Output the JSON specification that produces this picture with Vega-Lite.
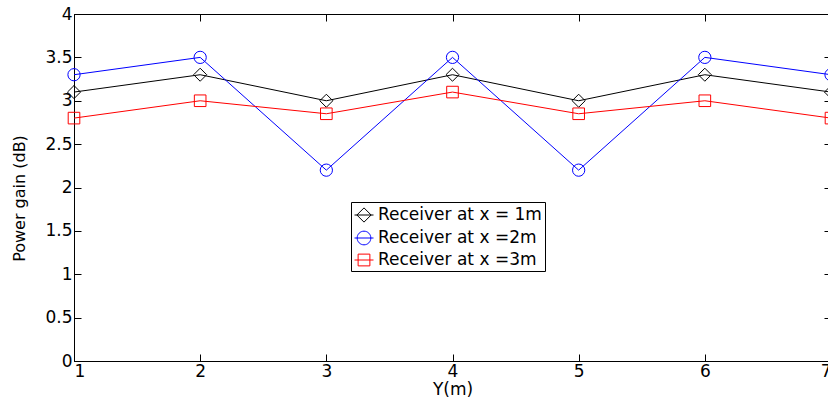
{
  "$schema": "https://vega.github.io/schema/vega-lite/v6.json",
  "width": 757,
  "height": 347,
  "autosize": {"type": "none"},
  "padding": {"left": 74, "top": 14, "right": 0, "bottom": 37},
  "background": "white",
  "config": {
    "view": {"stroke": "black", "strokeWidth": 1},
    "font": "DejaVu Sans",
    "axis": {
      "grid": false,
      "labelFont": "DejaVu Sans",
      "labelFontSize": 17,
      "labelColor": "black",
      "titleFont": "DejaVu Sans",
      "titleColor": "black",
      "titleFontWeight": "normal",
      "domainColor": "black",
      "tickColor": "black",
      "tickSize": -7,
      "tickWidth": 1
    }
  },
  "data": {
    "values": [
      {"series": "Receiver at x = 1m", "ym": 1, "gain": 3.1},
      {"series": "Receiver at x = 1m", "ym": 2, "gain": 3.3},
      {"series": "Receiver at x = 1m", "ym": 3, "gain": 3.0},
      {"series": "Receiver at x = 1m", "ym": 4, "gain": 3.3},
      {"series": "Receiver at x = 1m", "ym": 5, "gain": 3.0},
      {"series": "Receiver at x = 1m", "ym": 6, "gain": 3.3},
      {"series": "Receiver at x = 1m", "ym": 7, "gain": 3.1},
      {"series": "Receiver at x =2m", "ym": 1, "gain": 3.3},
      {"series": "Receiver at x =2m", "ym": 2, "gain": 3.5},
      {"series": "Receiver at x =2m", "ym": 3, "gain": 2.2},
      {"series": "Receiver at x =2m", "ym": 4, "gain": 3.5},
      {"series": "Receiver at x =2m", "ym": 5, "gain": 2.2},
      {"series": "Receiver at x =2m", "ym": 6, "gain": 3.5},
      {"series": "Receiver at x =2m", "ym": 7, "gain": 3.3},
      {"series": "Receiver at x =3m", "ym": 1, "gain": 2.8},
      {"series": "Receiver at x =3m", "ym": 2, "gain": 3.0},
      {"series": "Receiver at x =3m", "ym": 3, "gain": 2.85},
      {"series": "Receiver at x =3m", "ym": 4, "gain": 3.1},
      {"series": "Receiver at x =3m", "ym": 5, "gain": 2.85},
      {"series": "Receiver at x =3m", "ym": 6, "gain": 3.0},
      {"series": "Receiver at x =3m", "ym": 7, "gain": 2.8}
    ]
  },
  "layer": [
    {
      "transform": [{"filter": "datum.series === 'Receiver at x = 1m'"}],
      "mark": {"type": "line", "strokeWidth": 1, "color": "#000000",
               "point": {"shape": "diamond", "filled": false, "size": 170, "strokeWidth": 1, "color": "#000000"}},
      "encoding": {
        "x": {"field": "ym", "type": "quantitative", "scale": {"domain": [1, 7], "nice": false, "zero": false},
              "axis": {"orient": "bottom", "values": [1, 2, 3, 4, 5, 6, 7], "title": "Y(m)", "titleFontSize": 17, "titlePadding": 2, "labelPadding": 9, "format": "d"}},
        "y": {"field": "gain", "type": "quantitative", "scale": {"domain": [0, 4], "nice": false},
              "axis": {"orient": "left", "values": [0, 0.5, 1, 1.5, 2, 2.5, 3, 3.5, 4], "format": "~g", "title": "Power gain (dB)", "titleFontSize": 16, "labelPadding": 9, "titleX": -50, "titleY": 184, "titleBaseline": "alphabetic"}}
      }
    },
    {
      "transform": [{"filter": "datum.series === 'Receiver at x =2m'"}],
      "mark": {"type": "line", "strokeWidth": 1, "color": "#0000ff",
               "point": {"shape": "circle", "filled": false, "size": 150, "strokeWidth": 1, "color": "#0000ff"}},
      "encoding": {
        "x": {"field": "ym", "type": "quantitative", "axis": {"orient": "top", "values": [1, 2, 3, 4, 5, 6, 7], "labels": false, "title": null, "domain": false}},
        "y": {"field": "gain", "type": "quantitative", "axis": {"orient": "right", "values": [0, 0.5, 1, 1.5, 2, 2.5, 3, 3.5, 4], "labels": false, "title": null, "domain": false}}
      }
    },
    {
      "transform": [{"filter": "datum.series === 'Receiver at x =3m'"}],
      "mark": {"type": "line", "strokeWidth": 1, "color": "#ff0000",
               "point": {"shape": "square", "filled": false, "size": 135, "strokeWidth": 1, "color": "#ff0000"}},
      "encoding": {
        "x": {"field": "ym", "type": "quantitative", "axis": null},
        "y": {"field": "gain", "type": "quantitative", "axis": null}
      }
    },
    {
      "mark": {"type": "point", "filled": false, "size": 361, "strokeWidth": 1, "opacity": 0},
      "encoding": {
        "x": {"field": "ym", "type": "quantitative", "axis": null},
        "y": {"field": "gain", "type": "quantitative", "axis": null},
        "color": {"field": "series", "type": "nominal",
                  "scale": {"domain": ["Receiver at x = 1m", "Receiver at x =2m", "Receiver at x =3m"], "range": ["#000000", "#0000ff", "#ff0000"]},
                  "legend": {
                    "orient": "none", "legendX": 277, "legendY": 188, "title": null,
                    "labelFont": "DejaVu Sans", "labelFontSize": 17, "labelColor": "black", "labelLimit": 400,
                    "symbolSize": 361, "symbolStrokeWidth": 1, "symbolOpacity": 1,
                    "strokeColor": "black", "fillColor": "white", "padding": 3, "rowPadding": 3, "labelOffset": 4
                  }},
        "shape": {"field": "series", "type": "nominal",
                  "scale": {"domain": ["Receiver at x = 1m", "Receiver at x =2m", "Receiver at x =3m"],
                            "range": ["M-1,0H1M0,-0.75L0.75,0L0,0.75L-0.75,0Z", "M-1,0H1M-0.72,0A0.72,0.72,0,1,0,0.72,0A0.72,0.72,0,1,0,-0.72,0Z", "M-1,0H1M-0.62,-0.62H0.62V0.62H-0.62Z"]},
                  "legend": {
                    "orient": "none", "legendX": 277, "legendY": 188, "title": null,
                    "labelFont": "DejaVu Sans", "labelFontSize": 17, "labelColor": "black", "labelLimit": 400,
                    "symbolSize": 361, "symbolStrokeWidth": 1, "symbolOpacity": 1,
                    "strokeColor": "black", "fillColor": "white", "padding": 3, "rowPadding": 3, "labelOffset": 4
                  }}
      }
    }
  ],
  "resolve": {"axis": {"x": "independent", "y": "independent"}}
}
